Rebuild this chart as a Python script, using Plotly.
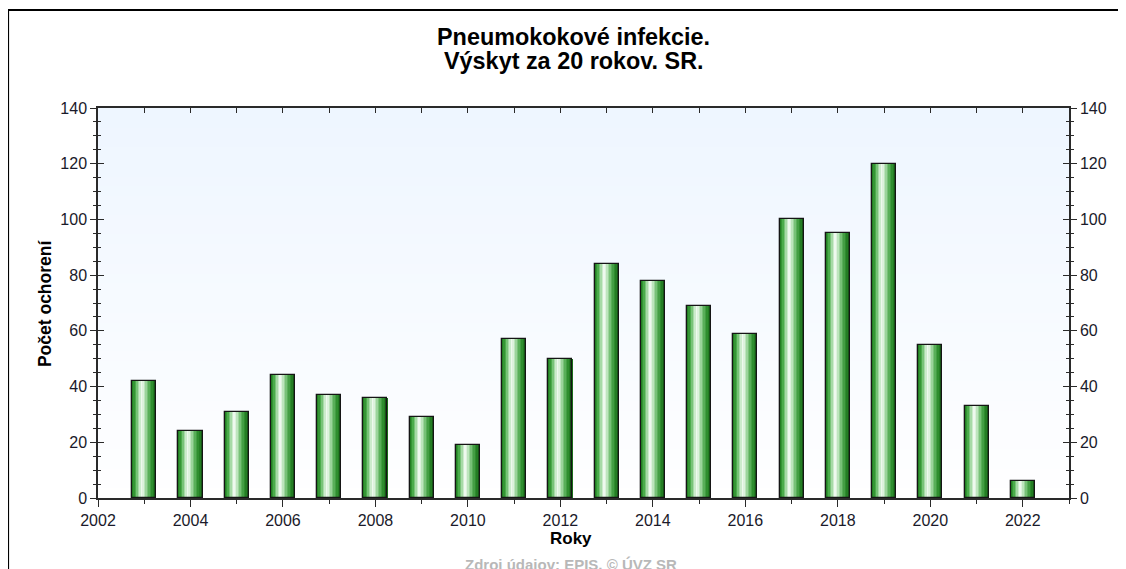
import plotly.graph_objects as go

years = [2003, 2004, 2005, 2006, 2007, 2008, 2009, 2010, 2011, 2012,
         2013, 2014, 2015, 2016, 2017, 2018, 2019, 2020, 2021, 2022]
cases = [42, 24, 31, 44, 37, 36, 29, 19, 57, 50,
         84, 78, 69, 59, 100, 95, 120, 55, 33, 6]

title_line1 = "Pneumokokové infekcie."
title_line2 = "Výskyt za 20 rokov. SR."
y_title = "Počet ochorení"
x_title = "Roky"
source_text = "Zdroj údajov: EPIS, © ÚVZ SR"

FONT = "Liberation Sans, Arial, sans-serif"
BAR_W = 0.52
N_STRIPES = 16

# horizontal colour ramp for the cylindrical bar look
stops = [(0.0, (25, 115, 25)), (0.15, (70, 170, 70)), (0.3, (180, 225, 180)),
         (0.42, (245, 252, 245)), (0.55, (180, 225, 180)), (0.7, (95, 180, 95)),
         (0.85, (45, 140, 45)), (1.0, (20, 100, 20))]


def ramp(t):
    for (t0, c0), (t1, c1) in zip(stops[:-1], stops[1:]):
        if t0 <= t <= t1:
            f = (t - t0) / (t1 - t0)
            return "rgb(%d,%d,%d)" % tuple(round(a + (b - a) * f) for a, b in zip(c0, c1))
    return "rgb(%d,%d,%d)" % stops[-1][1]


fig = go.Figure()
sw = BAR_W / N_STRIPES
for i in range(N_STRIPES):
    t = (i + 0.5) / N_STRIPES
    fig.add_trace(go.Bar(
        x=years, y=cases, width=sw * 1.08, offset=-BAR_W / 2 + i * sw,
        marker=dict(color=ramp(t), line=dict(width=0)),
        hoverinfo="skip", showlegend=False))

# outline
fig.add_trace(go.Bar(
    x=years, y=cases, width=BAR_W, offset=-BAR_W / 2,
    marker=dict(color="rgba(0,0,0,0)", line=dict(color="#151515", width=1.3)),
    showlegend=False, hovertemplate="%{x}: %{y}<extra></extra>"))

# invisible traces to activate extra axes
for xa, ya in [("x2", "y"), ("x", "y2"), ("x", "y3"), ("x", "y4")]:
    fig.add_trace(go.Scatter(x=years, y=cases, xaxis=xa, yaxis=ya, mode="markers",
                             marker=dict(opacity=0), hoverinfo="skip", showlegend=False))

# background gradient of the plot area
N_BG = 40
for i in range(N_BG):
    f = i / N_BG
    col = (int(255 - (255 - 238) * f), int(255 - (255 - 246) * f), 255)
    fig.add_shape(type="rect", xref="x domain", yref="y domain",
                  x0=0, x1=1, y0=f, y1=f + 1.0 / N_BG + 0.002,
                  fillcolor="rgb(%d,%d,%d)" % col, line=dict(width=0), layer="below")

# outer frame
fig.add_shape(type="rect", xref="paper", yref="paper",
              x0=-0.0926, x1=1.2, y0=-0.4, y1=1.2513,
              line=dict(color="black", width=2), fillcolor="rgba(0,0,0,0)", layer="above")

tickfont = dict(family=FONT, size=16, color="#1a1a2a")
xr = [2002, 2023]
yr = [0, 140]
axcol = "#2a2a2a"
common_y = dict(range=yr, tick0=0, dtick=20, showgrid=False, zeroline=False,
                ticklen=6, tickwidth=1.3, tickcolor=axcol,
                showline=True, linecolor=axcol, linewidth=1.5, tickfont=tickfont)

fig.update_layout(
    width=1126, height=569,
    margin=dict(l=90, r=65, t=100, b=79, autoexpand=False),
    paper_bgcolor="white", plot_bgcolor="white",
    barmode="overlay", bargap=0,
    font=dict(family=FONT, color="#111"),
    xaxis=dict(range=xr, tick0=2002, dtick=2, ticks="outside", ticklen=7,
               tickwidth=1.3, tickcolor=axcol, showgrid=False, zeroline=False,
               showline=True, linecolor=axcol, linewidth=1.5, tickfont=tickfont,
               minor=dict(dtick=1, ticks="outside", ticklen=4, tickcolor=axcol, tickwidth=1.3)),
    xaxis2=dict(range=xr, overlaying="x", side="top", tick0=2002, dtick=1,
                ticks="inside", ticklen=5, tickwidth=1.3, tickcolor=axcol,
                showticklabels=False, showgrid=False, zeroline=False,
                showline=True, linecolor=axcol, linewidth=1.5),
    yaxis=dict(side="left", ticks="outside",
               minor=dict(dtick=5, ticks="outside", ticklen=3, tickcolor=axcol, tickwidth=1.3),
               **common_y),
    yaxis2=dict(overlaying="y", side="right", ticks="outside",
                minor=dict(dtick=5, ticks="outside", ticklen=3, tickcolor=axcol, tickwidth=1.3),
                **common_y),
    yaxis3=dict(overlaying="y", side="left", ticks="inside", showticklabels=False,
                minor=dict(dtick=5, ticks="inside", ticklen=3, tickcolor=axcol, tickwidth=1.3),
                **common_y),
    yaxis4=dict(overlaying="y", side="right", ticks="inside", showticklabels=False,
                minor=dict(dtick=5, ticks="inside", ticklen=3, tickcolor=axcol, tickwidth=1.3),
                **common_y),
    annotations=[
        dict(text="<b>%s</b>" % title_line1, xref="paper", yref="paper", x=0.49, y=1.182,
             xanchor="center", yanchor="middle", showarrow=False,
             font=dict(family=FONT, size=23.4, color="#000")),
        dict(text="<b>%s</b>" % title_line2, xref="paper", yref="paper", x=0.49, y=1.1205,
             xanchor="center", yanchor="middle", showarrow=False,
             font=dict(family=FONT, size=23.4, color="#000")),
        dict(text="<b>%s</b>" % y_title, xref="paper", yref="paper", x=-0.0545, y=0.5,
             textangle=-90, xanchor="center", yanchor="middle", showarrow=False,
             font=dict(family=FONT, size=17.5, color="#000")),
        dict(text="<b>%s</b>" % x_title, xref="paper", yref="paper", x=0.487, y=-0.1026,
             xanchor="center", yanchor="middle", showarrow=False,
             font=dict(family=FONT, size=17, color="#000")),
        dict(text="<b>%s</b>" % source_text, xref="paper", yref="paper", x=0.487, y=-0.17,
             xanchor="center", yanchor="middle", showarrow=False,
             font=dict(family=FONT, size=15, color="#b8b8b8")),
    ],
)

fig.write_html("out.html")
